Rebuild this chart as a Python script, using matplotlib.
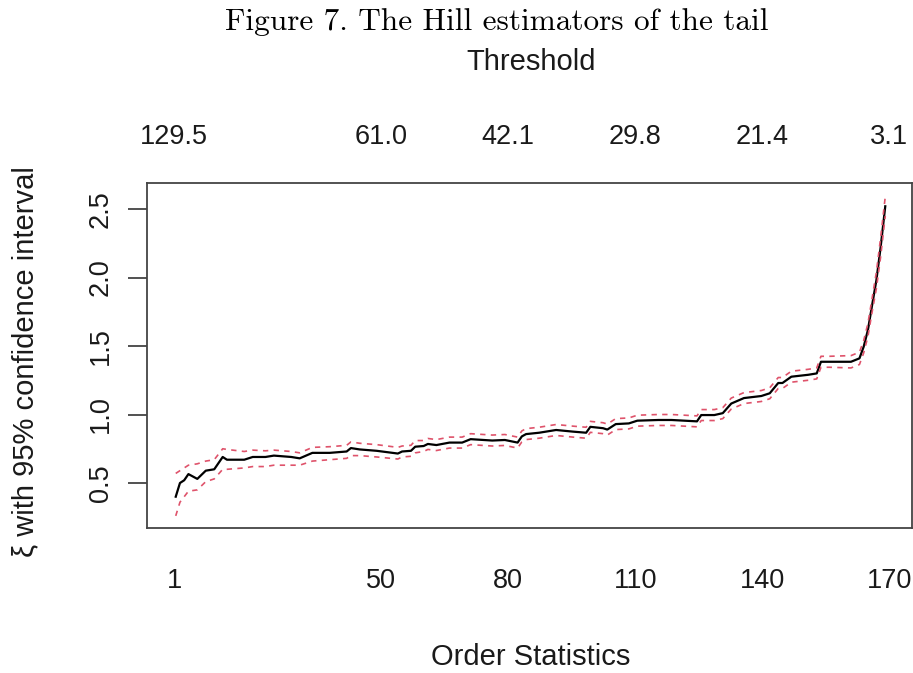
import matplotlib
matplotlib.use("Agg")
import matplotlib.pyplot as plt
from matplotlib import font_manager

# ---- data ----
order_k = [1.4, 2.4, 3.4, 4.4, 6.5, 8.5, 10.5, 12.5, 13.5, 17.6, 19.6, 22.6, 24.6, 28.7, 30.7, 33.7, 37.8, 41.8, 42.8, 44.9,
           48.9, 53.9, 54.9, 57.0, 58.0, 60.0, 61.0, 63.0, 66.1, 69.1, 71.1, 76.2, 79.2, 82.2, 83.2, 84.2, 87.3, 91.3, 95.3, 98.4,
           99.4, 102.4, 103.4, 105.4, 108.5, 110.5, 115.5, 118.6, 121.6, 124.6, 125.6, 128.7, 130.7, 132.7, 135.7, 139.8, 141.8, 143.8, 144.8, 146.9,
           150.9, 152.9, 153.9, 155.9, 161.0, 163.0, 164.0, 165.0, 166.0, 167.0, 168.0, 169.1]
hill_xi = [0.40, 0.50, 0.52, 0.565, 0.53, 0.59, 0.60, 0.69, 0.67, 0.67, 0.69, 0.69, 0.70, 0.69, 0.68, 0.72, 0.72, 0.73, 0.755, 0.745,
           0.735, 0.715, 0.73, 0.735, 0.765, 0.77, 0.785, 0.777, 0.795, 0.795, 0.82, 0.81, 0.814, 0.795, 0.84, 0.857, 0.867, 0.887, 0.875, 0.867,
           0.91, 0.90, 0.89, 0.93, 0.935, 0.955, 0.96, 0.96, 0.955, 0.95, 0.996, 0.996, 1.01, 1.08, 1.12, 1.135, 1.155, 1.23, 1.23, 1.276,
           1.29, 1.30, 1.385, 1.385, 1.385, 1.41, 1.495, 1.617, 1.80, 1.98, 2.22, 2.52]
ci_lower = [0.26, 0.36, 0.40, 0.44, 0.45, 0.51, 0.53, 0.60, 0.60, 0.61, 0.62, 0.62, 0.63, 0.63, 0.63, 0.66, 0.67, 0.68, 0.70, 0.70,
            0.69, 0.675, 0.69, 0.695, 0.72, 0.73, 0.745, 0.737, 0.755, 0.755, 0.78, 0.77, 0.774, 0.755, 0.80, 0.817, 0.827, 0.847, 0.835, 0.827,
            0.87, 0.86, 0.85, 0.89, 0.895, 0.915, 0.92, 0.92, 0.915, 0.91, 0.956, 0.956, 0.97, 1.04, 1.08, 1.095, 1.115, 1.19, 1.19, 1.236,
            1.25, 1.26, 1.345, 1.345, 1.34, 1.365, 1.45, 1.57, 1.75, 1.92, 2.15, 2.45]
ci_upper = [0.57, 0.59, 0.61, 0.63, 0.64, 0.66, 0.67, 0.75, 0.745, 0.73, 0.74, 0.735, 0.74, 0.73, 0.72, 0.76, 0.765, 0.775, 0.80, 0.79,
            0.78, 0.76, 0.77, 0.775, 0.81, 0.81, 0.825, 0.817, 0.835, 0.835, 0.86, 0.85, 0.854, 0.835, 0.88, 0.897, 0.907, 0.927, 0.915, 0.907,
            0.95, 0.94, 0.93, 0.97, 0.975, 0.995, 1.00, 1.00, 0.995, 0.99, 1.036, 1.036, 1.05, 1.12, 1.16, 1.175, 1.195, 1.27, 1.27, 1.316,
            1.33, 1.34, 1.425, 1.425, 1.43, 1.455, 1.54, 1.665, 1.85, 2.04, 2.29, 2.59]

x_ticks = [1, 50, 80, 110, 140, 170]
threshold_labels = ["129.5", "61.0", "42.1", "29.8", "21.4", "3.1"]
y_ticks = [0.5, 1.0, 1.5, 2.0, 2.5]

# ---- fonts ----
installed = {f.name for f in font_manager.fontManager.ttflist}
if "Liberation Sans Narrow" in installed:
    sans = ["Liberation Sans Narrow", "DejaVu Sans"]
    fs_tick, fs_lab = 24.5, 25
else:
    sans = ["Liberation Sans", "DejaVu Sans"]
    fs_tick, fs_lab = 19.5, 21
plt.rcParams["font.family"] = sans

W, H = 913, 673
fig = plt.figure(figsize=(W / 100, H / 100), dpi=100)
ax = fig.add_axes([147 / W, 1 - 528 / H, (911.5 - 147) / W, (528 - 183) / H])

ax.plot(order_k, hill_xi, color="black", lw=1.6)
ax.plot(order_k, ci_lower, color="#DF536B", lw=1.2, dashes=(3.2, 3.2))
ax.plot(order_k, ci_upper, color="#DF536B", lw=1.2, dashes=(3.2, 3.2))

ax.set_xlim(-5.39, 175.3)
ax.set_ylim(0.1715, 2.69)

ax.set_xticks(x_ticks)
ax.set_xticklabels([str(v) for v in x_ticks])
ax.tick_params(axis="x", length=0, pad=28.5, labelsize=fs_tick, colors="#1a1a1a")
ax.set_yticks(y_ticks)
ax.set_yticklabels([f"{v:.1f}" for v in y_ticks], rotation=90, va="center")
ax.tick_params(axis="y", length=13.7, width=1.2, pad=10, labelsize=fs_tick, colors="#1a1a1a", color="#333333")

for s in ax.spines.values():
    s.set_color("#444444")
    s.set_linewidth(1.3)

ax2 = ax.twiny()
ax2.set_xlim(ax.get_xlim())
ax2.set_xticks(x_ticks)
ax2.set_xticklabels(threshold_labels)
ax2.tick_params(axis="x", length=0, pad=23.5, labelsize=fs_tick, colors="#1a1a1a")
for s in ax2.spines.values():
    s.set_visible(False)

fig.text(531 / W, 1 - 657 / H, "Order Statistics", ha="center", va="center", fontsize=fs_lab, color="#1a1a1a")
fig.text(531 / W, 1 - 62 / H, "Threshold", ha="center", va="center", fontsize=fs_lab, color="#1a1a1a")
fig.text(25 / W, 1 - 362 / H, "ξ with 95% confidence interval", ha="center", va="center",
         rotation=90, fontsize=fs_lab, color="#1a1a1a")
fig.text(497 / W, 1 - 22 / H, "Figure 7. The Hill estimators of the tail", ha="center", va="center",
         fontsize=22.5, family="cmr10", color="black")

fig.savefig("out.png", dpi=100)
